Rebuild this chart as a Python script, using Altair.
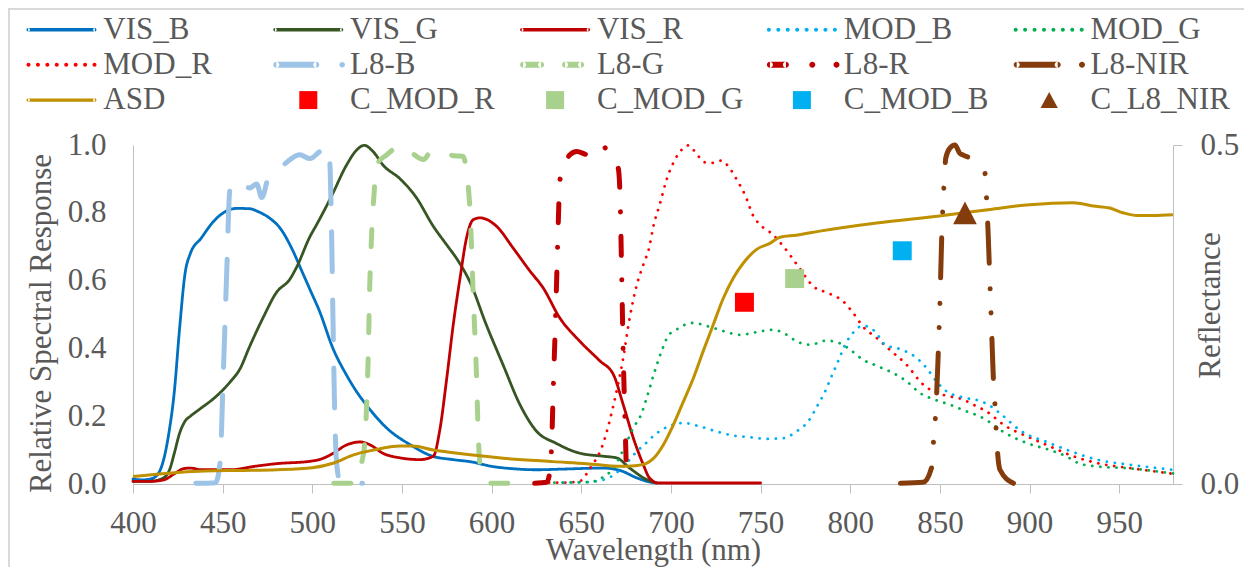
import json
import altair as alt
import pandas as pd

# ---------------- data ----------------
VIS_B_WL = [400, 405, 410, 414, 417, 420, 423, 426, 429, 432, 438, 445, 452, 458, 465, 470, 476, 482, 489, 494,
            499, 504, 511.5, 519, 525, 530, 541.5, 554.5, 567, 578.5, 590, 599, 612, 625, 640, 662, 671.6, 681, 688, 692]
VIS_B_V = [0.015, 0.012, 0.015, 0.03, 0.07, 0.15, 0.27, 0.46, 0.62, 0.68, 0.725, 0.775, 0.805, 0.813, 0.812, 0.803,
           0.785, 0.755, 0.69, 0.63, 0.57, 0.51, 0.40, 0.322, 0.27, 0.234, 0.165, 0.116, 0.082, 0.072, 0.064, 0.053,
           0.045, 0.042, 0.044, 0.047, 0.04, 0.018, 0.006, 0.003]

VIS_G_WL = [400, 410, 417, 420.6, 423, 426, 429, 432, 437, 446.7, 454, 459.7, 465, 472.5, 480, 487.6, 491.3, 498.7,
            502.4, 510.8, 519, 524.7, 529, 534, 539.6, 549, 558, 567.5, 575, 580.5, 588, 597, 606.5, 615.8, 625, 636,
            649, 662, 669.7, 677, 686.5, 692]
VIS_G_V = [0.008, 0.008, 0.018, 0.045, 0.09, 0.15, 0.185, 0.2, 0.22, 0.26, 0.3, 0.34, 0.405, 0.49, 0.565, 0.605,
           0.64, 0.73, 0.765, 0.85, 0.94, 0.985, 0.999, 0.98, 0.94, 0.9, 0.845, 0.76, 0.705, 0.665, 0.595, 0.47,
           0.35, 0.234, 0.156, 0.12, 0.091, 0.082, 0.077, 0.047, 0.013, 0.003]

VIS_R_WL = [400, 410, 417, 423.6, 428, 432, 438, 454, 469, 480, 498.7, 504, 511.5, 519, 526.6, 532, 539.6, 549, 560,
            567.5, 571, 575, 578.6, 582.4, 586, 589.8, 593.5, 602.8, 612, 621.4, 628.8, 638, 649, 660.4, 668, 673.4,
            679, 684.6, 688, 693, 720, 750]
VIS_R_V = [0.008, 0.008, 0.012, 0.032, 0.045, 0.047, 0.042, 0.042, 0.053, 0.06, 0.067, 0.072, 0.09, 0.115, 0.124,
           0.116, 0.09, 0.077, 0.072, 0.082, 0.156, 0.313, 0.47, 0.608, 0.726, 0.78, 0.785, 0.76, 0.696, 0.628,
           0.578, 0.49, 0.422, 0.363, 0.322, 0.234, 0.136, 0.057, 0.018, 0.003, 0.003, 0.003]

MOD_R_WL = [632, 640, 649, 655, 662, 668, 673.4, 677, 681, 684.6, 688, 690, 694, 697.6, 701.3, 706, 709.7, 715.3,
            720, 723.6, 728.3, 732, 736.7, 741.3, 746, 749.7, 757, 762.7, 771, 779.4, 787.8, 796, 801.7, 807, 814.7,
            822, 831.4, 840.7, 851.8, 863, 870.5, 876, 886, 898.4, 911.4, 924.4, 937.4, 956, 980]
MOD_R_V = [0.004, 0.004, 0.008, 0.047, 0.116, 0.234, 0.372, 0.49, 0.588, 0.647, 0.70, 0.755, 0.829, 0.898, 0.947,
           0.986, 0.999, 0.967, 0.947, 0.947, 0.954, 0.937, 0.898, 0.853, 0.79, 0.765, 0.735, 0.701, 0.642, 0.583,
           0.563, 0.539, 0.504, 0.465, 0.431, 0.396, 0.352, 0.293, 0.263, 0.249, 0.229, 0.214, 0.173, 0.141, 0.111,
           0.082, 0.062, 0.047, 0.03]

MOD_G_WL = [635, 655, 662, 668, 672.5, 679, 683.7, 686.5, 691, 694.8, 698.5, 703, 707.8, 712.5, 720.8, 730, 738.5,
            747.8, 757, 764.6, 770, 777.8, 786.8, 794.3, 800, 807, 815.6, 824, 831.4, 839, 847, 855.6, 865, 872, 877,
            885, 898.4, 911.4, 920, 928, 937.4, 956, 980]
MOD_G_V = [0.004, 0.006, 0.02, 0.047, 0.091, 0.165, 0.209, 0.254, 0.333, 0.392, 0.437, 0.455, 0.47, 0.475, 0.465,
           0.45, 0.44, 0.448, 0.455, 0.44, 0.421, 0.411, 0.423, 0.415, 0.396, 0.367, 0.347, 0.327, 0.303, 0.268,
           0.249, 0.234, 0.214, 0.2, 0.185, 0.155, 0.121, 0.1, 0.083, 0.06, 0.052, 0.046, 0.031]

MOD_B_WL = [640, 655, 666, 675, 681, 686, 691, 698.5, 706.9, 716, 725.5, 734.8, 744, 753.4, 762.6, 770, 776.6, 782,
            786, 789.6, 793.4, 797, 801.7, 807, 813.8, 819.4, 827.7, 836, 842.6, 848, 853.8, 864, 873, 877, 884.5,
            895.6, 909.6, 924.4, 937.4, 956, 980]
MOD_B_V = [0.004, 0.006, 0.02, 0.06, 0.096, 0.12, 0.145, 0.17, 0.18, 0.17, 0.155, 0.143, 0.138, 0.133, 0.135,
           0.155, 0.185, 0.234, 0.273, 0.318, 0.364, 0.409, 0.447, 0.467, 0.45, 0.411, 0.398, 0.376, 0.342, 0.303,
           0.273, 0.254, 0.244, 0.234, 0.204, 0.155, 0.124, 0.094, 0.072, 0.057, 0.042]

L8_B_WL = [435, 446, 448.5, 450.4, 452.3, 454, 459.7, 465, 469, 471.8, 476, 482, 487.6, 493, 498.7, 504, 509, 510,
           510.8, 511.7, 512.6, 513.5, 515.4, 528]
L8_B_V = [0.002, 0.004, 0.06, 0.33, 0.63, 0.865, 0.898, 0.873, 0.885, 0.845, 0.912, 0.932, 0.957, 0.971, 0.96,
          0.98, 0.995, 0.92, 0.726, 0.43, 0.185, 0.067, 0.008, 0.002]

L8_G_WL = [512, 522, 528.5, 530.3, 531.2, 532, 533, 534.4, 536, 541.5, 549, 554.5, 562, 565.6, 575, 578.6, 584,
           586, 588, 589.8, 591.7, 592.6, 594.4, 600, 610]
L8_G_V = [0.002, 0.002, 0.087, 0.234, 0.381, 0.578, 0.726, 0.853, 0.942, 0.971, 0.996, 0.98, 0.957, 0.976, 0.98,
          0.968, 0.967, 0.922, 0.8, 0.55, 0.3, 0.136, 0.027, 0.002, 0.002]

L8_R_WL = [624, 630.7, 632.5, 633.4, 634.4, 635.3, 636.3, 637.2, 638, 641, 643.7, 647.4, 654, 658.6, 662.3, 665,
           670.6, 671.6, 672.5, 673.4, 674.4, 675.3, 677]
L8_R_V = [0.002, 0.005, 0.037, 0.105, 0.283, 0.43, 0.608, 0.775, 0.893, 0.947, 0.971, 0.981, 0.971, 0.972, 0.996,
          0.976, 0.932, 0.853, 0.628, 0.381, 0.185, 0.038, 0.002]

L8_NIR_WL = [828, 840.7, 845.3, 846.6, 847.6, 848.7, 850, 851, 852.2, 853.3, 855.6, 858.4, 861, 863, 870.5, 875,
             876, 877, 878, 879, 879.8, 880.7, 881.6, 883.5, 891]
L8_NIR_V = [0.002, 0.005, 0.047, 0.136, 0.204, 0.333, 0.529, 0.726, 0.873, 0.962, 0.991, 1.0, 0.976, 0.97, 0.952,
            0.922, 0.844, 0.726, 0.578, 0.43, 0.313, 0.234, 0.136, 0.042, 0.002]

ASD_WL = [400, 420, 440, 460, 480, 500, 512, 523, 534, 549, 556, 567.5, 578.6, 588, 606.5, 634.4, 653, 671.6, 680,
          686, 690, 695.8, 701.3, 707, 712.5, 718, 723.6, 729.2, 734.8, 740.4, 747.8, 755.2, 760.8, 770, 783, 814.7,
          851.8, 878, 900, 924.4, 935.5, 944.8, 952.2, 960, 969, 980]
ASD_R = [0.011, 0.016, 0.019, 0.02, 0.021, 0.024, 0.031, 0.043, 0.05, 0.056, 0.056, 0.05, 0.046, 0.043, 0.038,
         0.033, 0.03, 0.026, 0.027, 0.03, 0.037, 0.058, 0.087, 0.122, 0.156, 0.196, 0.235, 0.274, 0.304, 0.326,
         0.346, 0.355, 0.364, 0.367, 0.373, 0.385, 0.396, 0.405, 0.412, 0.415, 0.41, 0.407, 0.4, 0.396, 0.396, 0.397]

PT_NAMES = ["C_MOD_R", "C_MOD_G", "C_MOD_B", "C_L8_NIR"]
PT_WL = [741, 769, 829, 864]
PT_R = [0.268, 0.303, 0.344, 0.40]

X_TICKS = [400, 450, 500, 550, 600, 650, 700, 750, 800, 850, 900, 950]
YL_TICKS = [0, 0.2, 0.4, 0.6, 0.8, 1.0]
YR_TICKS = [0, 0.5]

# legend order (row-major, 5 columns)
NAMES = ["VIS_B", "VIS_G", "VIS_R", "MOD_B", "MOD_G",
         "MOD_R", "L8-B", "L8-G", "L8-R", "L8-NIR",
         "ASD", "C_MOD_R", "C_MOD_G", "C_MOD_B", "C_L8_NIR"]

# ---------------- tables ----------------
RESP = {
    "VIS_B": (VIS_B_WL, VIS_B_V), "VIS_G": (VIS_G_WL, VIS_G_V), "VIS_R": (VIS_R_WL, VIS_R_V),
    "MOD_B": (MOD_B_WL, MOD_B_V), "MOD_G": (MOD_G_WL, MOD_G_V), "MOD_R": (MOD_R_WL, MOD_R_V),
    "L8-B": (L8_B_WL, L8_B_V), "L8-G": (L8_G_WL, L8_G_V), "L8-R": (L8_R_WL, L8_R_V),
    "L8-NIR": (L8_NIR_WL, L8_NIR_V),
}
resp_df = pd.DataFrame([{"series": n, "wl": w, "v": v}
                        for n, (ws, vs) in RESP.items() for w, v in zip(ws, vs)])
asd_df = pd.DataFrame({"series": "ASD", "wl": ASD_WL, "r": ASD_R})
pts_df = pd.DataFrame({"series": PT_NAMES, "wl": PT_WL, "r": PT_R})

# ---------------- styles ----------------
FONT = "Liberation Serif"
TXT = "#595959"
AXC = "#BFBFBF"

COLORS = {"VIS_B": "#0070C0", "VIS_G": "#375623", "VIS_R": "#C00000",
          "MOD_B": "#00B0F0", "MOD_G": "#00B050", "MOD_R": "#FF0000",
          "L8-B": "#9DC3E6", "L8-G": "#A9D18E", "L8-R": "#C00000", "L8-NIR": "#843C0C",
          "ASD": "#BF9000", "C_MOD_R": "#FF0000", "C_MOD_G": "#A9D18E",
          "C_MOD_B": "#00B0F0", "C_L8_NIR": "#843C0C"}
SOLID = [1, 0]
DOTS = [0.1, 8]
DASHES = {"VIS_B": SOLID, "VIS_G": SOLID, "VIS_R": SOLID,
          "MOD_B": DOTS, "MOD_G": DOTS, "MOD_R": DOTS,
          "L8-B": [40, 28], "L8-G": [17, 26], "L8-R": [19, 24.5, 0.1, 24.5],
          "L8-NIR": [40, 25.5, 0.1, 24, 0.1, 25.5]}
LINE_NAMES = list(RESP.keys())

SQ_PLOT = "M-0.79,-0.79H0.79V0.79H-0.79Z"
TRI_PLOT = "M0,-0.946L0.9875,0.946H-0.9875Z"

# legend symbols are drawn as filled paths; pixel geometry relative to the symbol start
LFS = 31                    # legend font size
S = LFS / 2.0               # symbol half-size in px (symbolSize = LFS**2)


def ux(px):
    return (px - S) / S


def uy(py):
    return py / S


def rect(x0, x1, h):
    return "M%.4f,%.4fH%.4fV%.4fH%.4fZ" % (ux(x0), uy(-h / 2), ux(x1), uy(h / 2), ux(x0))


def circ(cx, r):
    return "M%.4f,0A%.4f,%.4f 0 1,0 %.4f,0A%.4f,%.4f 0 1,0 %.4f,0Z" % (
        ux(cx - r), r / S, r / S, ux(cx + r), r / S, r / S, ux(cx - r))


def capsule(x0, x1, h):
    r = h / 2
    return rect(x0 + r, x1 - r, h) + circ(x0 + r, r) + circ(x1 - r, r)


def tri(cx, w, h):
    return "M%.4f,%.4fL%.4f,%.4fH%.4fZ" % (ux(cx), uy(-h / 2), ux(cx + w / 2), uy(h / 2), ux(cx - w / 2))


SYM_LEN = 70
SYM_SOLID = capsule(0, SYM_LEN, 3.4)
SYM_DOTS = "".join(circ(2 + 9.43 * k, 2) for k in range(8))
LEG_SHAPE = {
    "VIS_B": SYM_SOLID, "VIS_G": SYM_SOLID, "VIS_R": SYM_SOLID, "ASD": SYM_SOLID,
    "MOD_B": SYM_DOTS, "MOD_G": SYM_DOTS, "MOD_R": SYM_DOTS,
    "L8-B": capsule(0, 46, 6) + circ(68.9, 2.8),
    "L8-G": capsule(0, 24, 6) + capsule(42, 64, 6),
    "L8-R": capsule(0, 22, 6) + circ(45.4, 3) + circ(69.6, 3),
    "L8-NIR": capsule(0, 47, 6) + circ(68.3, 3),
    "C_MOD_R": rect(26, 44, 18), "C_MOD_G": rect(26, 44, 18), "C_MOD_B": rect(26, 44, 18),
    "C_L8_NIR": tri(35.5, 17.3, 16),
}


def lut(d):
    return alt.ExprRef(expr="(" + json.dumps({n: d[n] for n in NAMES}) + ")[datum.value]")


LEG = alt.Legend(title=None, orient="none", direction="horizontal", legendX=-106.5, legendY=-131,
                 columns=5, columnPadding=22.8, rowPadding=3.3, gridAlign="all", padding=0,
                 labelFont=FONT, labelFontSize=LFS, labelColor=TXT, labelOffset=45.8, labelLimit=400,
                 symbolSize=LFS * LFS, symbolOffset=0, symbolOpacity=1, symbolStrokeWidth=0,
                 symbolType=lut(LEG_SHAPE), symbolFillColor=lut(COLORS), symbolLimit=0)

COLOR = alt.Color("series:N", scale=alt.Scale(domain=NAMES, range=[COLORS[n] for n in NAMES]), legend=LEG)

x_axis = alt.Axis(values=X_TICKS, labelFont=FONT, labelFontSize=31, labelColor=TXT,
                  labelBaseline="alphabetic", labelPadding=39, labelFlush=False, labelOverlap=False,
                  tickColor=AXC, tickSize=9, tickWidth=1, domainColor=AXC, domainWidth=1, grid=False,
                  title="Wavelength (nm)", titleFont=FONT, titleFontSize=31, titleColor=TXT,
                  titleFontWeight="normal", titleY=75, titleBaseline="alphabetic")
X = alt.X("wl:Q", scale=alt.Scale(domain=[400, 980], nice=False, zero=False), axis=x_axis)

yl_axis = alt.Axis(orient="left", values=YL_TICKS, format=".1f", ticks=False, tickSize=0, labelPadding=27,
                   labelFont=FONT, labelFontSize=31, labelColor=TXT, labelFlush=False, labelOverlap=False,
                   domainColor=AXC, domainWidth=1, grid=False,
                   title="Relative Spectral Response", titleFont=FONT, titleFontSize=31, titleColor=TXT,
                   titleFontWeight="normal", titleAngle=270, titleX=-92, titleY=178,
                   titleAlign="center", titleBaseline="middle")
YL = alt.Y("v:Q", scale=alt.Scale(domain=[0, 1], nice=False), axis=yl_axis)

yr_axis = alt.Axis(orient="right", values=YR_TICKS, format=".1f", tickSize=9, tickColor=AXC, tickWidth=1,
                   labelPadding=18, labelFont=FONT, labelFontSize=31, labelColor=TXT, labelFlush=False,
                   labelOverlap=False, domainColor=AXC, domainWidth=1, grid=False,
                   title="Reflectance", titleFont=FONT, titleFontSize=31, titleColor=TXT,
                   titleFontWeight="normal", titleAngle=270, titleX=37, titleY=160,
                   titleAlign="center", titleBaseline="middle")
YR = alt.Y("r:Q", scale=alt.Scale(domain=[0, 0.5], nice=False), axis=yr_axis)

DASH = alt.StrokeDash("series:N", scale=alt.Scale(domain=LINE_NAMES, range=[DASHES[n] for n in LINE_NAMES]),
                      legend=None)


def resp_line(names, width):
    return alt.Chart(resp_df).transform_filter(
        alt.FieldOneOfPredicate(field="series", oneOf=names)
    ).mark_line(interpolate="monotone", strokeCap="round", strokeJoin="round").encode(
        x=X, y=YL, color=COLOR, strokeDash=DASH, strokeWidth=alt.value(width),
    )


resp = alt.layer(
    resp_line(["VIS_B", "VIS_G", "VIS_R", "MOD_R"], 2.8),
    resp_line(["L8-B", "L8-G"], 5),
    resp_line(["MOD_B", "MOD_G"], 2.8),
    resp_line(["L8-R", "L8-NIR"], 5),
)

asd = alt.Chart(asd_df).mark_line(interpolate="monotone").encode(
    x=X, y=YR, color=COLOR, strokeWidth=alt.value(3))
pts_sq = alt.Chart(pts_df).transform_filter(
    alt.FieldOneOfPredicate(field="series", oneOf=["C_MOD_R", "C_MOD_G", "C_MOD_B"])
).mark_point(filled=True, opacity=1, size=576, shape=SQ_PLOT, strokeWidth=0).encode(x=X, y=YR, color=COLOR)
pts_tri = alt.Chart(pts_df).transform_filter(
    alt.FieldOneOfPredicate(field="series", oneOf=["C_L8_NIR"])
).mark_point(filled=True, opacity=1, size=576, shape=TRI_PLOT, strokeWidth=0).encode(x=X, y=YR, color=COLOR)
refl = alt.layer(asd, pts_sq, pts_tri)

frame_df = pd.DataFrame({"k": [0]})
frame_top = alt.Chart(frame_df).mark_rule(color="#D9D9D9", strokeWidth=2).encode(
    x=alt.value(-125), x2=alt.value(1111), y=alt.value(-136))
frame_left = alt.Chart(frame_df).mark_rule(color="#D9D9D9", strokeWidth=2).encode(
    x=alt.value(-124), y=alt.value(-137), y2=alt.value(422))

chart = alt.layer(resp, refl, frame_top, frame_left).resolve_scale(
    y="independent"
).properties(
    width=1040, height=339,
    autosize=alt.AutoSizeParams(type="none"),
    padding={"left": 125, "top": 137, "right": 71, "bottom": 83},
).configure_view(stroke=None)

chart.save("out.html", embed_options={"renderer": "svg", "actions": False})
